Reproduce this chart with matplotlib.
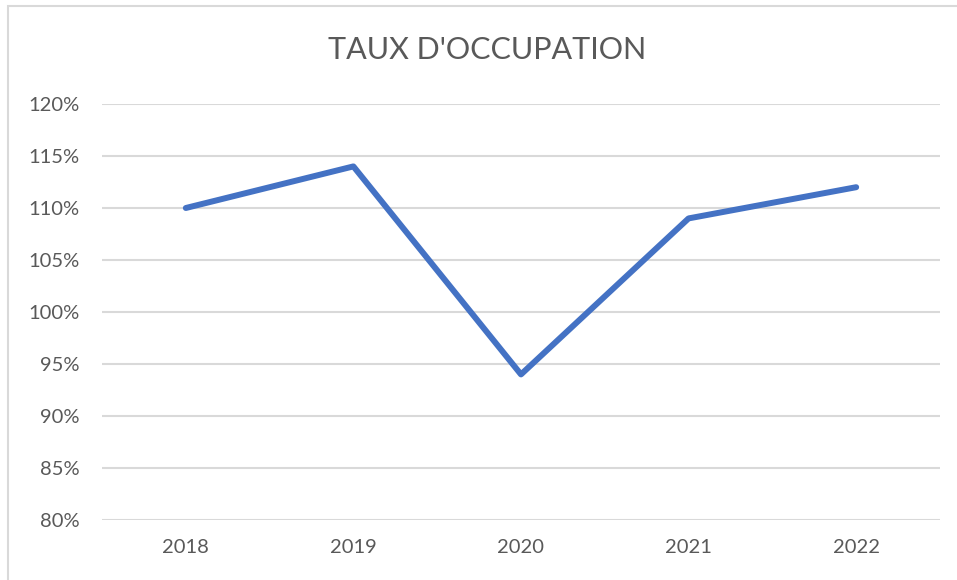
import matplotlib.pyplot as plt
from matplotlib.patches import Rectangle
from matplotlib.ticker import FuncFormatter

plt.rcParams['font.family'] = ['Lato', 'DejaVu Sans']

years = ['2018', '2019', '2020', '2021', '2022']
taux = [1.10, 1.14, 0.94, 1.09, 1.12]
y_ticks = [0.80, 0.85, 0.90, 0.95, 1.00, 1.05, 1.10, 1.15, 1.20]
title = "TAUX D'OCCUPATION"

grey_txt = '#595959'
grid_col = '#D9D9D9'

fig = plt.figure(figsize=(9.57, 5.80), dpi=100)
ax = fig.add_axes([0.1066, 0.1034, 0.8756, 0.7173])

x = range(len(years))
ax.plot(x, taux, color='#4472C4', lw=4.3, solid_capstyle='round', solid_joinstyle='round', zorder=3)

ax.set_xlim(-0.5, len(years) - 0.5)
ax.set_ylim(y_ticks[0], y_ticks[-1])
ax.set_xticks(list(x))
ax.set_xticklabels(years)
ax.set_yticks(y_ticks)
ax.yaxis.set_major_formatter(FuncFormatter(lambda v, p: f'{v*100:.0f}%'))
ax.grid(axis='y', color=grid_col, lw=1.5, zorder=0)
ax.tick_params(length=0, labelsize=14.5, labelcolor=grey_txt)
ax.tick_params(axis='x', pad=14)
ax.tick_params(axis='y', pad=16)
for s in ax.spines.values():
    s.set_visible(False)

fig.text(0.509, 0.914, title, ha='center', va='center', fontsize=22, color=grey_txt)

# chart border (Excel chart area)
fig.patches.append(Rectangle((8 / 957, -0.05), 1.0, 1.05 - 6 / 580, transform=fig.transFigure,
                             fill=False, edgecolor=grid_col, lw=1.5))

fig.savefig('out.png', dpi=100)
